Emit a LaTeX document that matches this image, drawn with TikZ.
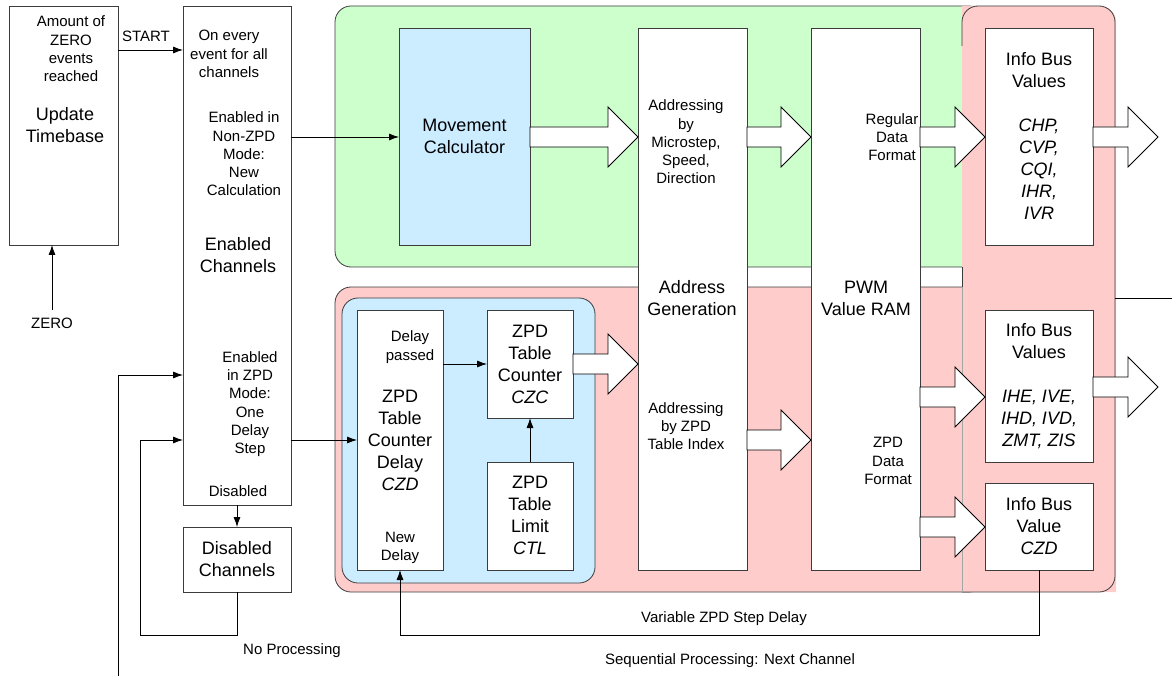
\documentclass[tikz,border=0pt]{standalone}
\usepackage{fontspec}
\setmainfont{Liberation Sans}
\usetikzlibrary{arrows.meta,calc}
\definecolor{gfill}{RGB}{204,255,204}
\definecolor{rfill}{RGB}{255,204,204}
\definecolor{bfill}{RGB}{204,236,255}
\definecolor{lc}{RGB}{60,60,60}
\newcommand\blockarr[2]{%
  \path (#1) coordinate (ba) (#2) coordinate (bb);
  \draw[blk] ($(ba)+(0,-10)$) -- ($(bb)+(-30,-10)$) -- ($(bb)+(-30,-30)$) -- (bb)
    -- ($(bb)+(-30,30)$) -- ($(bb)+(-30,10)$) -- ($(ba)+(0,10)$) -- cycle;}
\tikzset{
  panel/.style={draw=lc, line width=0.8pt, rounded corners=16, inner sep=0pt, outer sep=0pt},
  box/.style={draw=lc, fill=white, line width=0.8pt, inner sep=0pt, outer sep=0pt},
  sm/.style={font=\fontsize{15}{18.3}\selectfont, align=center, inner sep=0pt},
  lg/.style={font=\fontsize{18}{22}\selectfont, align=center, inner sep=0pt},
  arr/.style={draw=black, line width=0.8pt, -{Latex[length=10pt,width=7pt]}},
  ln/.style={draw=black, line width=0.8pt},
  blk/.style={draw=black, fill=white, line width=0.8pt, line join=miter},
}
\begin{document}
\begin{tikzpicture}[x=1pt,y=-1pt]
\useasboundingbox (0,0) rectangle (1172,676);
% panels
\node[panel, fill=gfill, minimum width=650, minimum height=261] (gp) at (660,136.5) {};
\node[panel, fill=rfill, minimum width=650, minimum height=305] (rp) at (660,439.5) {};
\node[inner sep=0pt, outer sep=0pt, minimum width=153, minimum height=586] (rr) at (1038.5,299) {};
\fill[rfill] (rr.south west) -- ($(rr.south east)+(1,0)$) [rounded corners=16] -- ($(rr.north east)+(1,0)$) [sharp corners] -- (rr.north west) -- cycle;
\draw[draw=lc, line width=0.8pt, rounded corners=16] ($(rr.north west)+(0,40)$) -- (rr.north west) -- (rr.north east) -- (rr.south east) -- (rr.south west);
\draw[draw=lc, line width=0.8pt] (rr.west |- gp.south) -- (rr.west |- rp.north);
\draw[draw=gray!70, line width=0.5pt] (rr.west |- rp.north) -- (rr.south west);
\node[panel, fill=bfill, minimum width=253, minimum height=285] (bp) at (468.5,440.5) {};
% boxes
\node[box, minimum width=109, minimum height=239] (ut) at (63.5,125.5) {};
\node[box, minimum width=108, minimum height=499] (ec) at (237,255.5) {};
\node[box, minimum width=108, minimum height=65] (dc) at (237,559.5) {};
\node[box, fill=bfill, minimum width=131, minimum height=217] (mc) at (464.5,136.5) {};
\node[box, minimum width=109, minimum height=542] (ag) at (692.5,299) {};
\node[box, minimum width=109, minimum height=542] (pwm) at (865.5,299) {};
\node[box, minimum width=108, minimum height=217] (ib1) at (1039,136.5) {};
\node[box, minimum width=108, minimum height=152] (ib2) at (1039,386) {};
\node[box, minimum width=108, minimum height=87] (ib3) at (1039,526.5) {};
\node[box, minimum width=86, minimum height=260] (czd) at (400,440) {};
\node[box, minimum width=86, minimum height=108] (czc) at (530,364) {};
\node[box, minimum width=86, minimum height=108] (ctl) at (530,516) {};
% texts
\node[sm] (t1) at (71,49) {Amount of\\ZERO\\events\\reached};
\node[lg] (t2) at (65,125) {Update\\Timebase};
\node[sm] (tstart) at (146,36) {START};
\node[sm] (tzero) at (52,323) {ZERO};
\node[sm] (t3) at (229,54) {On every\\event for all\\channels};
\node[sm] (t4) at (244,154) {Enabled in\\Non-ZPD\\Mode:\\New\\Calculation};
\node[lg] (t5) at (238,255) {Enabled\\Channels};
\node[sm] (t6) at (250,404) {Enabled\\in ZPD\\Mode:\\One\\Delay\\Step};
\node[sm] (t7) at (238,491) {Disabled};
\node[lg] (t8) at (dc) {Disabled\\Channels};
\node[lg] (t9) at (mc) {Movement\\Calculator};
\node[sm] (t10) at (686,142) {Addressing\\by\\Microstep,\\Speed,\\Direction};
\node[lg] (t11) at (692,298) {Address\\Generation};
\node[sm] (t12) at (686,426) {Addressing\\by ZPD\\Table Index};
\node[sm] (t13) at (892,137) {Regular\\Data\\Format};
\node[lg] (t14) at (866,298) {PWM\\Value RAM};
\node[sm] (t15) at (888,461) {ZPD\\Data\\Format};
\node[lg] (t16) at (1039,70) {Info Bus\\Values};
\node[lg, font=\fontsize{18}{22}\selectfont\itshape] (t17) at (1039,169) {CHP,\\CVP,\\CQI,\\IHR,\\IVR};
\node[lg] (t18) at (1039,341) {Info Bus\\Values};
\node[lg, font=\fontsize{18}{22}\selectfont\itshape] (t19) at (1039,419) {IHE, IVE,\\IHD, IVD,\\ZMT, ZIS};
\node[lg] (t20) at (1039,526) {Info Bus\\Value\\\textit{CZD}};
\node[sm] (t21) at (410,347) {Delay\\passed};
\node[lg] (t22) at (400,440) {ZPD\\Table\\Counter\\Delay\\\textit{CZD}};
\node[sm] (t23) at (400,548) {New\\Delay};
\node[lg] (t24) at (czc) {ZPD\\Table\\Counter\\\textit{CZC}};
\node[lg] (t25) at (530,515) {ZPD\\Table\\Limit\\\textit{CTL}};
\node[sm] (t26) at (724,619) {Variable ZPD Step Delay};
\node[sm] (t27) at (730,661) {Sequential Processing: Next Channel};
\node[sm] (t28) at (292,651) {No Processing};
% thin connectors
\coordinate (zs) at (52,310);
\coordinate (lb) at (118,676);
\coordinate (re) at (1172,298);
\draw[arr] (ut.east |- 0,50) -- (ec.west |- 0,50);
\draw[arr] (zs) -- (zs |- ut.south);
\draw[arr] (ec.east |- 0,137) -- (mc.west |- 0,137);
\draw[arr] (ec.east |- 0,440) -- (czd.west |- 0,440);
\draw[arr] (ec.south) -- (dc.north);
\draw[arr] (dc.south) -- (237,635) -- (140,635) -- (140,440) -- (ec.west |- 0,440);
\draw[arr] (lb) -- (118,375) -- (ec.west |- 0,375);
\draw[arr] (czd.east |- 0,364) -- (czc.west |- 0,364);
\draw[arr] (ctl.north) -- (czc.south);
\draw[arr] (ib3.south) -- (ib3.south |- 0,635) -- (czd.south |- 0,635) -- (czd.south);
\draw[ln] (rr.east |- re) -- (re);
% block arrows
\blockarr{mc.east |- 0,137}{ag.west |- 0,137}
\blockarr{ag.east |- 0,137}{pwm.west |- 0,137}
\blockarr{pwm.east |- 0,137}{ib1.west |- 0,137}
\blockarr{ib1.east |- 0,137}{1158,137}
\blockarr{czc.east |- 0,364}{ag.west |- 0,364}
\blockarr{ag.east |- 0,440}{pwm.west |- 0,440}
\blockarr{pwm.east |- 0,397}{ib2.west |- 0,397}
\blockarr{ib2.east |- 0,387}{1158,387}
\blockarr{pwm.east |- 0,527}{ib3.west |- 0,527}
\end{tikzpicture}
\end{document}
